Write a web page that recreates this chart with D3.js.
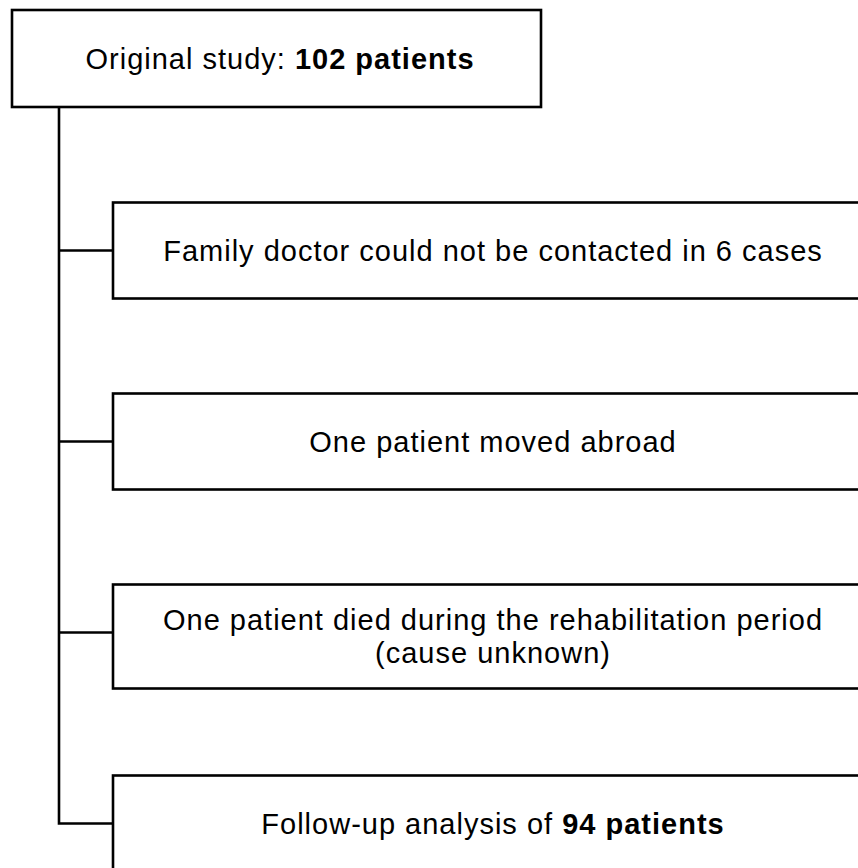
<!DOCTYPE html>
<html>
<head>
<meta charset="utf-8">
<script src="https://cdn.jsdelivr.net/npm/d3@7"></script>
<style>
  body { margin: 0; background: #fff; }
  text { font-family: "Liberation Sans", Arial, sans-serif; fill: #000; }
</style>
</head>
<body>
<div id="chart"></div>
<script>
// flowchart content
var rootLabel = [["Original study: ", false], ["102 patients", true]];
var stepLabels = [
  [[["Family doctor could not be contacted in 6 cases", false]]],
  [[["One patient moved abroad", false]]],
  [[["One patient died during the rehabilitation period", false]], [["(cause unknown)", false]]],
  [[["Follow-up analysis of ", false], ["94 patients", true]]]
];

var svgWidth = 858;
var svgHeight = 868;
var fontSize = 29;
var lineGap = 33;
var spacing = "1px";

var svg = d3
  .select("#chart")
  .append("svg")
  .attr("width", svgWidth)
  .attr("height", svgHeight);

// vertical placement of the step boxes
var yScale = d3
  .scalePoint()
  .domain(d3.range(stepLabels.length))
  .range([250.5, 823.5]);

var trunkX = 59;
var boxLeft = 113;
var boxRight = 869;

function addLines(g, lines, cx, cy) {
  var n = lines.length;
  lines.forEach((parts, i) => {
    var t = g
      .append("text")
      .attr("x", cx)
      .attr("y", cy + fontSize * 0.35 + (i - (n - 1) / 2) * lineGap)
      .attr("text-anchor", "middle")
      .attr("font-size", fontSize + "px")
      .style("letter-spacing", spacing);
    parts.forEach(p => {
      t.append("tspan")
        .attr("font-weight", p[1] ? "bold" : "normal")
        .text(p[0]);
    });
  });
}

// root box
var root = svg.append("g");
root
  .append("rect")
  .attr("x", 12)
  .attr("y", 10)
  .attr("width", 529)
  .attr("height", 97)
  .attr("fill", "#fff")
  .attr("stroke", "#000")
  .attr("stroke-width", 2.6);
addLines(root, [rootLabel], 280, 58.5);

// trunk line
var lastY = yScale(stepLabels.length - 1);
svg
  .append("path")
  .attr("d", `M${trunkX},107 V${lastY} H${boxLeft}`)
  .attr("fill", "none")
  .attr("stroke", "#000")
  .attr("stroke-width", 2.6);

// step boxes
var steps = svg
  .selectAll("g.step")
  .data(stepLabels)
  .enter()
  .append("g")
  .attr("class", "step");

steps
  .filter((d, i) => i < stepLabels.length - 1)
  .append("line")
  .attr("x1", trunkX)
  .attr("x2", boxLeft)
  .attr("y1", (d, i) => yScale(i))
  .attr("y2", (d, i) => yScale(i))
  .attr("stroke", "#000")
  .attr("stroke-width", 2.6);

var extra = d => (d.length - 1) * 8;

steps
  .append("rect")
  .attr("x", boxLeft)
  .attr("y", (d, i) => yScale(i) - 48 - extra(d) / 2 + extra(d) / 2)
  .attr("width", boxRight - boxLeft)
  .attr("height", d => 96 + extra(d))
  .attr("fill", "#fff")
  .attr("stroke", "#000")
  .attr("stroke-width", 2.6);

steps.each(function(d, i) {
  addLines(d3.select(this), d, (boxLeft + boxRight) / 2 + 2, yScale(i) + extra(d) / 2);
});
</script>
</body>
</html>
